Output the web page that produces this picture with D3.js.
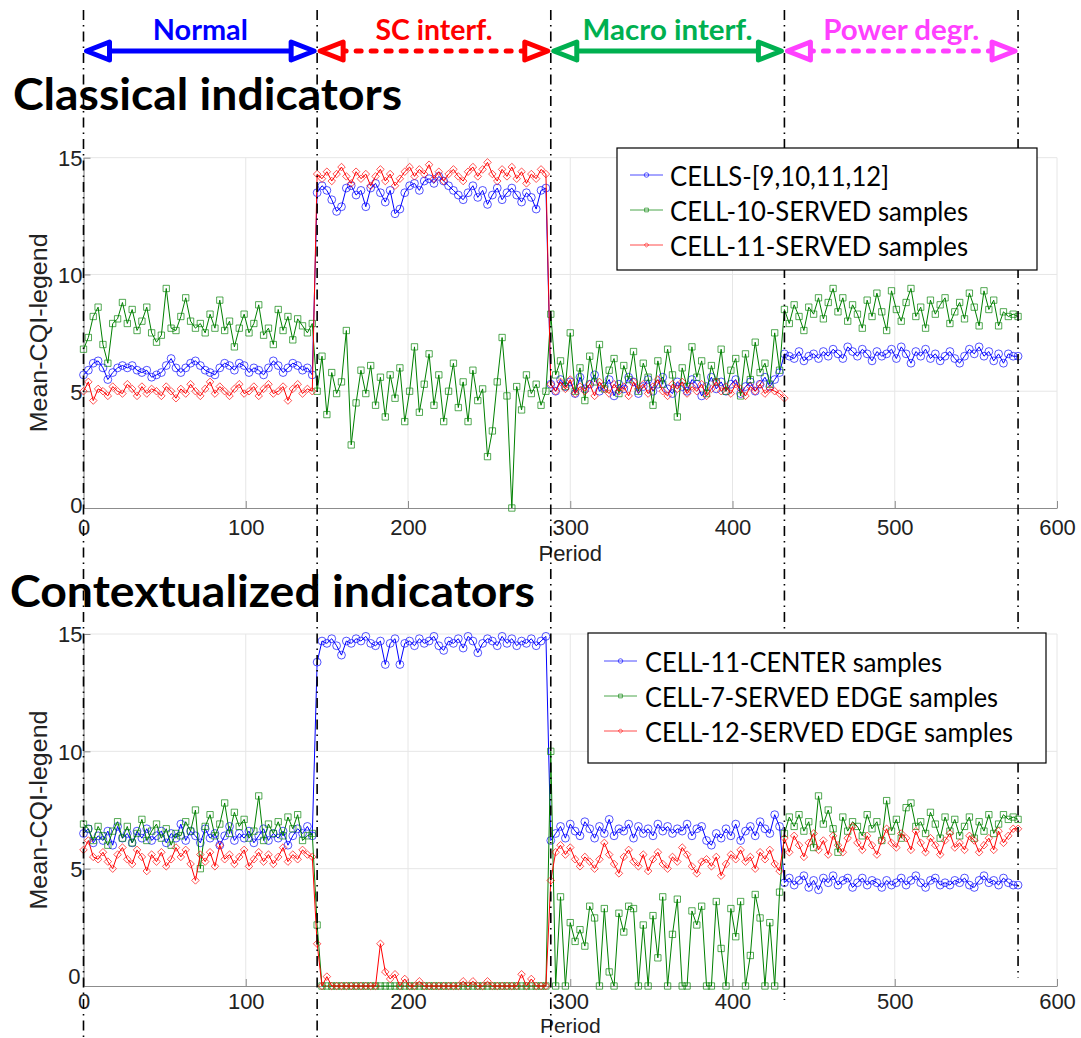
<!DOCTYPE html>
<html><head><meta charset="utf-8">
<script src="https://cdn.jsdelivr.net/npm/d3@7"></script>
<style>body{margin:0;background:#fff}svg{display:block}</style>
</head><body>
<svg id="c" width="1081" height="1038"></svg>
<script>
// ---------- DATA ----------
const periods = d3.range(0, 577, 3);            // sample periods (every 3rd period)
const xTicks = [0, 100, 200, 300, 400, 500, 600];
const yTicks = [0, 5, 10, 15];
const phaseBounds = [0, 144, 288, 432, 576];
const phaseLabels = ["Normal", "SC interf.", "Macro interf.", "Power degr."];
const panelTitles = ["Classical indicators", "Contextualized indicators"];
const xLabel = "Period";
const yLabel = "Mean-CQI-legend";
const topNames = ["CELLS-[9,10,11,12]", "CELL-10-SERVED samples", "CELL-11-SERVED samples"];
const bottomNames = ["CELL-11-CENTER samples", "CELL-7-SERVED EDGE samples", "CELL-12-SERVED EDGE samples"];

const topBlue = [
 5.7,5.9,6.2,6.3,6.0,5.5,5.8,6.0,6.1,6.0, 6.1,5.9,5.8,5.9,5.6,5.7,5.8,6.1,6.4,6.0, 5.8,6.0,6.2,6.3,6.1,5.9,5.8,5.7,6.0,6.2, 6.1,5.9,6.2,6.1,5.8,6.0,5.9,5.7,6.0,6.3, 6.1,5.8,6.0,6.2,6.1,5.9,6.0,5.7,
 13.5,13.8,13.6,13.2,12.7,12.9,13.7,13.8,13.4,13.6, 12.9,13.7,13.9,13.5,13.1,13.6,12.6,12.8,13.5,13.8, 13.9,13.6,14.0,14.1,13.9,14.2,14.0,13.8,13.6,13.4, 13.2,13.5,13.8,13.3,13.6,13.0,13.4,13.7,13.2,13.5, 13.7,13.4,13.1,13.5,13.3,12.8,13.6,13.7,
 5.3,5.0,5.5,5.2,5.4,4.9,5.6,5.1,5.3,5.7, 5.0,5.2,5.5,4.8,5.3,5.1,5.6,5.4,4.9,5.2, 5.5,5.0,5.3,5.6,5.1,4.9,5.4,5.2,5.0,5.5, 5.3,4.8,5.2,5.6,5.1,5.4,5.0,5.3,5.5,4.9, 5.2,5.4,5.0,5.3,5.6,5.2,5.5,5.8,
 6.6,6.5,6.4,6.7,6.3,6.5,6.6,6.4,6.7,6.5, 6.8,6.6,6.4,6.9,6.7,6.5,6.8,6.6,6.3,6.7, 6.5,6.6,6.8,6.4,6.9,6.6,6.2,6.7,6.5,6.8, 6.4,6.6,6.3,6.5,6.7,6.4,6.2,6.5,6.8,6.6, 6.9,6.5,6.7,6.3,6.6,6.2,6.6,6.5,6.5
];
const topGreen = [
 6.8,7.3,8.2,8.6,7.0,6.2,7.9,8.1,8.8,7.9, 8.5,7.6,8.0,8.6,7.5,7.1,7.4,9.4,7.7,7.6, 8.2,9.0,8.0,7.7,7.9,7.5,8.3,7.7,8.9,7.6, 8.0,6.9,7.7,8.3,7.5,7.9,8.7,7.4,7.7,7.0, 8.5,7.6,8.2,7.2,8.1,7.8,7.5,7.9,
 5.0,6.5,4.0,5.8,4.9,5.4,7.6,2.7,4.5,5.9, 4.9,6.1,4.4,5.6,3.9,5.7,4.7,6.0,3.7,5.0, 6.9,4.1,5.3,6.6,4.4,5.7,3.7,5.0,6.2,4.3, 5.4,3.7,5.9,4.6,5.1,2.2,3.3,5.4,7.3,4.8, 0.0,5.2,4.2,5.7,4.9,5.3,4.4,5.0,
 8.3,5.7,6.3,5.2,7.5,5.0,6.0,4.6,6.5,5.4, 7.0,5.1,5.9,6.4,4.9,6.1,5.5,6.7,5.0,6.2, 5.6,4.4,6.3,5.3,6.8,5.7,3.9,6.0,5.2,6.9, 5.6,6.3,4.9,6.1,5.4,6.8,5.0,5.9,6.4,4.8, 6.6,5.5,7.1,5.8,6.2,5.3,7.5,5.9,
 8.5,7.9,8.7,8.2,7.6,8.6,8.3,9.0,8.1,8.8, 9.4,8.4,9.0,8.0,8.7,8.3,7.7,8.9,8.2,9.2, 8.4,7.6,9.3,8.5,8.0,8.8,9.4,8.2,8.6,7.7, 8.9,8.3,8.7,9.0,7.9,8.4,8.8,8.1,9.2,8.6, 7.8,9.3,8.5,8.9,7.8,8.4,8.2,8.3,8.2
];
const topRed = [
 5.0,5.4,4.6,5.1,5.0,4.8,5.2,5.0,4.9,5.3, 5.1,4.8,5.2,4.9,5.1,5.0,4.8,5.2,5.0,4.7, 5.1,4.9,5.3,5.0,4.8,5.1,5.4,4.9,5.2,5.0, 4.8,5.1,5.3,4.9,5.0,5.2,4.8,5.1,5.3,4.9, 5.0,5.2,4.6,5.1,5.3,4.9,5.1,5.0,
 14.3,14.1,14.4,14.0,14.3,14.6,14.2,13.9,14.4,14.1, 14.3,13.8,14.2,14.5,14.0,14.3,13.8,14.1,14.4,14.6, 14.2,14.5,14.3,14.7,14.1,14.4,14.0,14.3,14.5,14.2, 14.0,14.4,14.6,14.2,14.5,14.8,14.3,14.0,14.5,14.2, 14.6,14.1,14.4,13.9,14.3,14.1,14.5,14.3,
 5.3,5.0,5.4,5.1,5.5,4.9,5.2,5.0,5.3,4.8, 5.4,5.1,4.9,5.3,5.0,5.2,4.8,5.4,5.1,5.3, 4.9,5.2,5.5,5.0,4.8,5.3,5.1,5.4,4.9,5.2, 5.0,5.3,4.8,5.1,5.4,5.0,5.2,4.9,5.3,5.1, 4.8,5.2,5.0,5.3,4.9,5.1,5.0,4.9, 4.7
];
const bottomBlue = [
 6.5,6.7,6.1,6.4,6.2,6.6,6.0,6.8,6.3,6.5, 6.1,6.6,6.3,6.7,6.2,6.4,6.6,6.1,6.5,6.3, 6.9,6.2,6.6,6.4,6.1,6.7,6.3,6.5,6.0,6.4, 6.8,6.2,6.5,6.3,6.6,6.1,6.4,6.7,6.2,6.5, 6.3,6.6,6.0,6.4,6.7,6.5,6.8,6.4,
 13.8,14.7,14.6,14.8,14.5,14.1,14.7,14.6,14.8,14.7, 14.9,14.6,14.5,14.7,13.7,14.6,14.8,13.7,14.6,14.7, 14.5,14.8,14.6,14.7,14.9,14.5,14.3,14.7,14.6,14.8, 14.4,14.9,14.7,14.2,14.6,14.8,14.7,14.5,14.9,14.6, 14.8,14.5,14.7,14.6,14.8,14.5,14.7,14.9,
 6.2,6.5,6.8,6.3,6.9,6.6,6.4,7.0,6.7,6.3, 6.8,6.5,7.1,6.4,6.7,6.6,6.9,6.3,6.8,6.5, 6.7,6.4,6.9,6.6,6.8,6.5,6.7,6.6,6.9,6.4, 6.7,6.8,6.2,6.0,6.5,6.3,6.7,6.4,6.9,6.2, 6.6,6.8,6.4,7.0,6.7,6.5,7.3,6.8,
 4.4,4.6,4.3,4.5,4.7,4.2,4.5,4.1,4.6,4.4, 4.7,4.3,4.5,4.6,4.2,4.4,4.6,4.3,4.5,4.4, 4.2,4.5,4.3,4.4,4.6,4.3,4.5,4.7,4.4,4.2, 4.5,4.6,4.3,4.4,4.3,4.5,4.4,4.6,4.3,4.2, 4.5,4.7,4.4,4.5,4.3,4.6,4.4,4.3,4.3
];
const bottomGreen = [
 6.9,6.7,6.2,6.8,6.4,6.0,6.6,7.0,6.3,6.8, 6.1,6.5,7.1,6.2,6.6,6.9,6.3,6.7,6.0,6.5, 6.4,7.0,6.6,7.5,5.0,6.8,7.3,6.4,6.9,7.8, 6.5,7.4,6.8,7.1,6.3,6.6,8.1,6.2,6.9,6.5, 7.0,6.4,7.2,6.7,7.3,6.2,6.4,6.5,
 2.6,0,0,0,0,0,0,0,0,0, 0,0,0,0,0,0,0,0,0,0, 0,0,0,0,0,0,0,0,0,0, 0,0,0,0,0,0,0,0,0,0, 0,0,0,0,0,0,0,0,
 10.0,0.0,3.8,0.0,2.7,1.9,2.4,1.7,3.4,2.9, 0.0,3.3,0.6,0.0,3.1,2.3,3.4,3.3,0.0,2.6, 0.0,3.0,1.2,3.8,0.0,2.2,3.7,0.0,0.0,3.2, 2.6,3.4,0.0,0.0,3.6,1.6,0.0,3.3,2.1,3.6, 0.0,1.3,3.9,2.9,0.0,2.7,0.0,4.0,
 6.5,7.2,6.8,7.3,6.6,7.0,5.9,8.1,6.9,7.5, 6.7,5.7,7.2,6.6,7.0,6.8,6.4,7.3,6.7,7.0, 6.2,7.9,6.6,7.1,6.3,7.6,7.8,6.8,7.0,6.5, 7.4,6.9,6.3,7.2,6.6,7.1,6.4,6.8,7.2,6.3, 7.0,6.6,7.3,6.5,6.9,7.3,7.1,7.2,7.1
];
const bottomRed = [
 5.8,6.2,5.5,5.4,5.7,5.3,5.0,5.6,5.9,5.4, 5.2,5.8,5.5,4.9,5.6,5.3,5.7,5.1,5.4,5.9, 5.5,5.8,5.2,4.5,5.6,5.3,5.7,5.1,6.0,5.4, 5.6,5.2,5.5,5.8,5.1,5.4,5.7,5.3,5.6,5.2, 5.5,5.9,5.3,5.6,5.4,5.8,5.6,5.5,
 1.8,0.0,0.4,0.0,0,0,0,0,0,0, 0,0,0,1.8,0.6,0.3,0.5,0.0,0.3,0, 0,0.2,0,0,0,0,0,0,0,0, 0.2,0,0.2,0,0,0.2,0,0,0,0, 0,0,0.5,0,0.3,0,0,0,
 4.5,5.7,6.0,5.6,5.9,5.4,5.1,5.5,5.3,5.0, 5.4,6.1,5.6,5.2,4.8,5.5,5.8,5.3,5.1,5.6, 4.9,5.4,5.7,5.2,5.0,5.5,5.3,5.9,5.6,5.1, 4.8,5.3,5.4,5.1,5.5,4.7,5.2,5.6,5.4,5.8, 5.3,5.5,5.0,5.7,5.4,5.8,5.2,4.9,
 6.3,5.7,6.4,6.0,5.5,6.1,6.5,5.8,6.2,5.6, 6.4,6.0,5.7,6.3,6.8,6.1,5.8,6.4,6.0,5.6, 6.2,6.7,6.1,5.9,6.5,6.3,5.8,6.6,6.1,5.7, 6.3,6.0,5.6,6.2,6.5,5.9,6.1,5.8,6.4,6.2, 5.7,6.0,6.3,5.8,6.6,6.1,6.4,6.7,6.7
];

// ---------- STYLE / LAYOUT ----------
const seriesColors = ["#0000ff", "#008000", "#ff0000"];
const phaseColors = ["#0000ff", "#ff0000", "#00b050", "#ff40ff"];
const phaseDashed = [false, true, false, true];
const diamond = d3.symbolDiamond2 || d3.symbolDiamond;
const shapes = [d3.symbolCircle, d3.symbolSquare, diamond];
const shapeSizes = [48, 40, 36];
const legendShapeSizes = [16, 14, 12];

const svg = d3.select("#c");
const x = d3.scaleLinear().domain([0, 600]).range([83.5, 1057]);

const panels = [
  { y0: 508, y15: 157.7, series: [topBlue, topGreen, topRed], names: topNames,
    tickY: 27, xlabY: 561, xlabSize: 22, zeroDy: "0.2em", zeroX: -1,
    title: { x: 13, y: 110, w: 389 },
    leg: { x: 617, y: 148, w: 420, h: 122, tx: 670, lx0: 630, lx1: 663, rows: [186, 221, 256], widths: [219, 298, 298] } },
  { y0: 986, y15: 634, series: [bottomBlue, bottomGreen, bottomRed], names: bottomNames,
    tickY: 23, xlabY: 1033, xlabSize: 21, zeroDy: "-0.12em", zeroX: -3,
    title: { x: 10, y: 607, w: 525 },
    leg: { x: 588, y: 633, w: 458, h: 130, tx: 645, lx0: 604, lx1: 637, rows: [672, 707, 742], widths: [297, 353, 368] } }
];

const layerTitles = svg.append("g");
const layerPlots = svg.append("g");
const layerVLines = svg.append("g");
const layerLegends = svg.append("g");
const layerArrows = svg.append("g");

panels.forEach((p, pi) => {
  const y = d3.scaleLinear().domain([0, 15]).range([p.y0, p.y15]);
  const g = layerPlots.append("g");

  // grid
  g.selectAll(null).data(xTicks.filter(t => t > 0)).join("line")
    .attr("x1", d => x(d)).attr("x2", d => x(d)).attr("y1", y(0)).attr("y2", y(15))
    .attr("stroke", "#e6e6e6").attr("stroke-width", 1);
  g.selectAll(null).data(yTicks.filter(t => t > 0)).join("line")
    .attr("x1", x(0)).attr("x2", x(600)).attr("y1", d => y(d)).attr("y2", d => y(d))
    .attr("stroke", "#e6e6e6").attr("stroke-width", 1);

  // axes
  const gx = g.append("g").attr("transform", `translate(0,${p.y0})`)
    .call(d3.axisBottom(x).tickValues(xTicks).tickSizeInner(-7).tickSizeOuter(0).tickPadding(0));
  const gy = g.append("g").attr("transform", `translate(${x(0)},0)`)
    .call(d3.axisLeft(y).tickValues(yTicks).tickSizeInner(-7).tickSizeOuter(0).tickPadding(0));
  [gx, gy].forEach(a => {
    a.attr("font-family", "'Liberation Sans', Arial, sans-serif").attr("font-size", 22);
    a.select(".domain").attr("stroke", "#8c8c8c").attr("stroke-width", 1.2);
    a.selectAll(".tick line").attr("stroke", "#8c8c8c");
    a.selectAll(".tick text").attr("fill", "#222");
  });
  gx.selectAll(".tick text").attr("y", p.tickY).attr("dy", 0);
  gy.selectAll(".tick text")
    .attr("x", d => d === 0 ? p.zeroX : -1)
    .attr("dy", d => d === 0 ? p.zeroDy : "0.36em");

  // axis labels
  g.append("text").attr("x", (x(0) + x(600)) / 2).attr("y", p.xlabY)
    .attr("text-anchor", "middle").attr("font-family", "'Liberation Sans', Arial, sans-serif")
    .attr("font-size", p.xlabSize).attr("fill", "#222").text(xLabel);
  g.append("text").attr("transform", `translate(47,${(p.y0 + p.y15) / 2})rotate(-90)`)
    .attr("text-anchor", "middle").attr("font-family", "'Liberation Sans', Arial, sans-serif")
    .attr("font-size", 23).attr("fill", "#222")
    .attr("textLength", 199).attr("lengthAdjust", "spacingAndGlyphs").text(yLabel);

  // series
  p.series.forEach((vals, si) => {
    const pts = vals.map((v, i) => ({ t: periods[i], v })).filter(d => d.v != null);
    const line = d3.line().x(d => x(d.t)).y(d => y(d.v));
    g.append("path").attr("d", line(pts)).attr("fill", "none")
      .attr("stroke", seriesColors[si]).attr("stroke-width", 1);
    const sym = d3.symbol().type(shapes[si]).size(shapeSizes[si]);
    g.append("g").selectAll("path").data(pts).join("path")
      .attr("transform", d => `translate(${x(d.t)},${y(d.v)})`)
      .attr("d", sym).attr("fill", "none").attr("stroke", seriesColors[si])
      .attr("stroke-width", 0.9).attr("stroke-opacity", 0.75);
  });

  // title
  layerTitles.append("text").attr("x", p.title.x).attr("y", p.title.y)
    .attr("font-family", "Lato, 'Open Sans', sans-serif").attr("font-weight", "bold")
    .attr("font-size", 44).attr("fill", "#000")
    .attr("textLength", p.title.w).attr("lengthAdjust", "spacingAndGlyphs")
    .text(panelTitles[pi]);

  // legend
  const L = p.leg;
  const lg = layerLegends.append("g");
  lg.append("rect").attr("x", L.x).attr("y", L.y).attr("width", L.w).attr("height", L.h)
    .attr("fill", "#fff").attr("stroke", "#000").attr("stroke-width", 1.2);
  p.names.forEach((name, si) => {
    const ry = L.rows[si] - 11;
    lg.append("line").attr("x1", L.lx0).attr("x2", L.lx1).attr("y1", ry).attr("y2", ry)
      .attr("stroke", seriesColors[si]).attr("stroke-width", 1).attr("stroke-opacity", 0.7);
    lg.append("path").attr("transform", `translate(${(L.lx0 + L.lx1) / 2},${ry})`)
      .attr("d", d3.symbol().type(shapes[si]).size(legendShapeSizes[si]))
      .attr("fill", "none").attr("stroke", seriesColors[si]).attr("stroke-width", 0.9).attr("stroke-opacity", 0.7);
    lg.append("text").attr("x", L.tx).attr("y", L.rows[si])
      .attr("font-family", "Lato, 'Open Sans', sans-serif").attr("font-size", 26).attr("fill", "#000")
      .attr("textLength", L.widths[si]).attr("lengthAdjust", "spacingAndGlyphs").text(name);
  });
});

// vertical dash-dot phase separators
const vEnds = [1038, 1038, 1038, 1000, 978];
layerVLines.selectAll("line").data(phaseBounds).join("line")
  .attr("x1", d => x(d)).attr("x2", d => x(d)).attr("y1", 10).attr("y2", (d, i) => vEnds[i])
  .attr("stroke", "#000").attr("stroke-width", 1.6).attr("stroke-dasharray", "10,5,1.5,5");

// phase arrows + labels
const ay = 51;
phaseLabels.forEach((lab, i) => {
  const x1 = x(phaseBounds[i]), x2 = x(phaseBounds[i + 1]);
  const c = phaseColors[i];
  const ag = layerArrows.append("g");
  ag.append("line").attr("x1", x1 + 24).attr("x2", x2 - 24).attr("y1", ay).attr("y2", ay)
    .attr("stroke", c).attr("stroke-width", 5)
    .attr("stroke-linecap", phaseDashed[i] ? "round" : "butt")
    .attr("stroke-dasharray", phaseDashed[i] ? "5,10" : null);
  [[x1, 1], [x2, -1]].forEach(([tx, dir]) => {
    ag.append("path")
      .attr("d", `M${tx + dir * 3},${ay}L${tx + dir * 26},${ay - 9}L${tx + dir * 26},${ay + 9}Z`)
      .attr("fill", "#fff").attr("stroke", c).attr("stroke-width", 5).attr("stroke-linejoin", "round");
  });
  const labelW = [95, 117, 170, 156][i];
  ag.append("text").attr("x", (x1 + x2) / 2).attr("y", 40).attr("text-anchor", "middle")
    .attr("font-family", "Lato, 'Open Sans', sans-serif").attr("font-weight", "bold")
    .attr("font-size", 29).attr("fill", c)
    .attr("textLength", labelW).attr("lengthAdjust", "spacingAndGlyphs").text(lab);
});
</script>
</body></html>
